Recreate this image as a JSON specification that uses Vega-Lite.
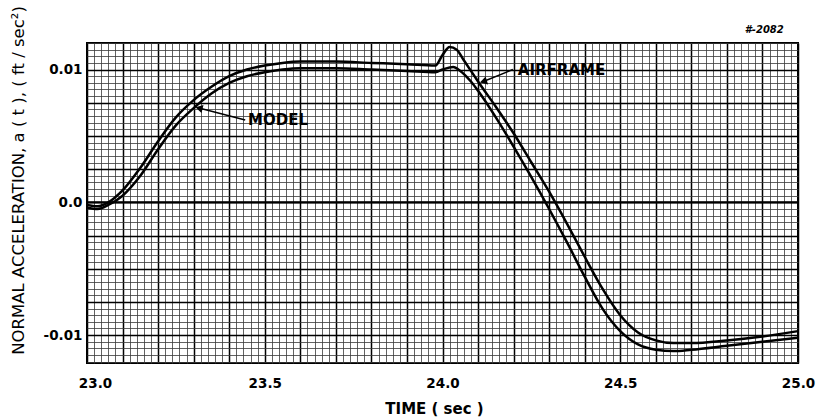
{
  "$schema": "https://vega.github.io/schema/vega-lite/v6.json",
  "width": 711,
  "height": 320,
  "autosize": {"type": "none"},
  "padding": {"left": 87, "top": 43, "right": 19, "bottom": 56},
  "background": "white",
  "config": {
    "view": {"stroke": "black", "strokeWidth": 2},
    "font": "DejaVu Sans"
  },
  "datasets": {
    "curves": [
      {"series": "AIRFRAME", "t": 23.00, "v": -0.0002},
      {"series": "AIRFRAME", "t": 23.03, "v": -0.0003},
      {"series": "AIRFRAME", "t": 23.06, "v": 0.0000},
      {"series": "AIRFRAME", "t": 23.10, "v": 0.0009},
      {"series": "AIRFRAME", "t": 23.15, "v": 0.0026},
      {"series": "AIRFRAME", "t": 23.20, "v": 0.0046},
      {"series": "AIRFRAME", "t": 23.25, "v": 0.0064},
      {"series": "AIRFRAME", "t": 23.30, "v": 0.0077},
      {"series": "AIRFRAME", "t": 23.35, "v": 0.0087},
      {"series": "AIRFRAME", "t": 23.40, "v": 0.0095},
      {"series": "AIRFRAME", "t": 23.45, "v": 0.0100},
      {"series": "AIRFRAME", "t": 23.50, "v": 0.0103},
      {"series": "AIRFRAME", "t": 23.55, "v": 0.0105},
      {"series": "AIRFRAME", "t": 23.60, "v": 0.0106},
      {"series": "AIRFRAME", "t": 23.70, "v": 0.0106},
      {"series": "AIRFRAME", "t": 23.80, "v": 0.0105},
      {"series": "AIRFRAME", "t": 23.90, "v": 0.0104},
      {"series": "AIRFRAME", "t": 23.98, "v": 0.0103},
      {"series": "AIRFRAME", "t": 24.00, "v": 0.0111},
      {"series": "AIRFRAME", "t": 24.02, "v": 0.0117},
      {"series": "AIRFRAME", "t": 24.04, "v": 0.0115},
      {"series": "AIRFRAME", "t": 24.06, "v": 0.0107},
      {"series": "AIRFRAME", "t": 24.08, "v": 0.0099},
      {"series": "AIRFRAME", "t": 24.10, "v": 0.0091},
      {"series": "AIRFRAME", "t": 24.15, "v": 0.0072},
      {"series": "AIRFRAME", "t": 24.20, "v": 0.0052},
      {"series": "AIRFRAME", "t": 24.25, "v": 0.0030},
      {"series": "AIRFRAME", "t": 24.30, "v": 0.0008},
      {"series": "AIRFRAME", "t": 24.35, "v": -0.0016},
      {"series": "AIRFRAME", "t": 24.40, "v": -0.0041},
      {"series": "AIRFRAME", "t": 24.45, "v": -0.0065},
      {"series": "AIRFRAME", "t": 24.50, "v": -0.0085},
      {"series": "AIRFRAME", "t": 24.55, "v": -0.0098},
      {"series": "AIRFRAME", "t": 24.60, "v": -0.0104},
      {"series": "AIRFRAME", "t": 24.65, "v": -0.0106},
      {"series": "AIRFRAME", "t": 24.70, "v": -0.0106},
      {"series": "AIRFRAME", "t": 24.80, "v": -0.0104},
      {"series": "AIRFRAME", "t": 24.90, "v": -0.0101},
      {"series": "AIRFRAME", "t": 25.00, "v": -0.0097},
      {"series": "MODEL", "t": 23.00, "v": -0.0004},
      {"series": "MODEL", "t": 23.03, "v": -0.0005},
      {"series": "MODEL", "t": 23.06, "v": -0.0002},
      {"series": "MODEL", "t": 23.10, "v": 0.0005},
      {"series": "MODEL", "t": 23.15, "v": 0.0020},
      {"series": "MODEL", "t": 23.20, "v": 0.0040},
      {"series": "MODEL", "t": 23.25, "v": 0.0058},
      {"series": "MODEL", "t": 23.30, "v": 0.0071},
      {"series": "MODEL", "t": 23.35, "v": 0.0082},
      {"series": "MODEL", "t": 23.40, "v": 0.0090},
      {"series": "MODEL", "t": 23.45, "v": 0.0095},
      {"series": "MODEL", "t": 23.50, "v": 0.0098},
      {"series": "MODEL", "t": 23.55, "v": 0.0100},
      {"series": "MODEL", "t": 23.60, "v": 0.0101},
      {"series": "MODEL", "t": 23.70, "v": 0.0101},
      {"series": "MODEL", "t": 23.80, "v": 0.0100},
      {"series": "MODEL", "t": 23.90, "v": 0.0099},
      {"series": "MODEL", "t": 23.98, "v": 0.0098},
      {"series": "MODEL", "t": 24.00, "v": 0.0100},
      {"series": "MODEL", "t": 24.03, "v": 0.0102},
      {"series": "MODEL", "t": 24.05, "v": 0.0099},
      {"series": "MODEL", "t": 24.08, "v": 0.0091},
      {"series": "MODEL", "t": 24.10, "v": 0.0084},
      {"series": "MODEL", "t": 24.15, "v": 0.0064},
      {"series": "MODEL", "t": 24.20, "v": 0.0042},
      {"series": "MODEL", "t": 24.25, "v": 0.0019},
      {"series": "MODEL", "t": 24.30, "v": -0.0005},
      {"series": "MODEL", "t": 24.35, "v": -0.0030},
      {"series": "MODEL", "t": 24.40, "v": -0.0056},
      {"series": "MODEL", "t": 24.45, "v": -0.0080},
      {"series": "MODEL", "t": 24.50, "v": -0.0097},
      {"series": "MODEL", "t": 24.55, "v": -0.0107},
      {"series": "MODEL", "t": 24.60, "v": -0.0111},
      {"series": "MODEL", "t": 24.65, "v": -0.0112},
      {"series": "MODEL", "t": 24.70, "v": -0.0111},
      {"series": "MODEL", "t": 24.80, "v": -0.0108},
      {"series": "MODEL", "t": 24.90, "v": -0.0105},
      {"series": "MODEL", "t": 25.00, "v": -0.0102}
    ],
    "zero": [
      {"t": 23.0, "t2": 25.0, "v": 0}
    ],
    "labels": [
      {"label": "MODEL", "t": 23.453, "v": 0.0062},
      {"label": "AIRFRAME", "t": 24.212, "v": 0.0100}
    ],
    "arrows": [
      {"name": "MODEL", "t": 23.445, "v": 0.0062, "t2": 23.315, "v2": 0.0071},
      {"name": "AIRFRAME", "t": 24.198, "v": 0.0100, "t2": 24.115, "v2": 0.0091}
    ],
    "heads": [
      {"name": "MODEL", "t": 23.315, "v": 0.0071},
      {"name": "AIRFRAME", "t": 24.115, "v": 0.0091}
    ],
    "note": [
      {"label": "#-2082", "t": 24.96, "v": 0.0130}
    ]
  },
  "encoding": {
    "x": {
      "field": "t", "type": "quantitative",
      "scale": {"domain": [23, 25], "nice": false, "zero": false},
      "axis": {
        "values": [23,23.02,23.04,23.06,23.08,23.1,23.12,23.14,23.16,23.18,23.2,23.22,23.24,23.26,23.28,23.3,23.32,23.34,23.36,23.38,23.4,23.42,23.44,23.46,23.48,23.5,23.52,23.54,23.56,23.58,23.6,23.62,23.64,23.66,23.68,23.7,23.72,23.74,23.76,23.78,23.8,23.82,23.84,23.86,23.88,23.9,23.92,23.94,23.96,23.98,24,24.02,24.04,24.06,24.08,24.1,24.12,24.14,24.16,24.18,24.2,24.22,24.24,24.26,24.28,24.3,24.32,24.34,24.36,24.38,24.4,24.42,24.44,24.46,24.48,24.5,24.52,24.54,24.56,24.58,24.6,24.62,24.64,24.66,24.68,24.7,24.72,24.74,24.76,24.78,24.8,24.82,24.84,24.86,24.88,24.9,24.92,24.94,24.96,24.98,25],
        "labelExpr": "abs(datum.value*2 - round(datum.value*2)) < 0.001 ? format(datum.value, '.1f') : ''",
        "labelFont": "DejaVu Sans", "labelFontSize": 13.5, "labelFontWeight": "bold", "labelColor": "black",
        "labelPadding": 13,
        "labelOffset": {"condition": {"test": "datum.value < 23.01", "value": 8}, "value": 0},
        "labelFlush": false, "labelOverlap": false,
        "ticks": false, "domain": false,
        "grid": true,
        "gridColor": {"condition": {"test": "abs(datum.value*10 - round(datum.value*10)) < 0.001", "value": "#000000"}, "value": "#3a3a3a"},
        "gridWidth": {"condition": {"test": "abs(datum.value*10 - round(datum.value*10)) < 0.001", "value": 1.5}, "value": 0.8},
        "gridOpacity": 1,
        "title": "TIME ( sec )",
        "titleFont": "DejaVu Sans", "titleFontSize": 15, "titleFontWeight": "bold", "titleColor": "black",
        "titleX": 347, "titleY": 45, "titleBaseline": "middle", "titleAlign": "center"
      }
    },
    "y": {
      "field": "v", "type": "quantitative",
      "scale": {"domain": [-0.0121, 0.0120], "nice": false, "zero": false},
      "axis": {
        "values": [-0.012,-0.0115,-0.011,-0.0105,-0.01,-0.0095,-0.009,-0.0085,-0.008,-0.0075,-0.007,-0.0065,-0.006,-0.0055,-0.005,-0.0045,-0.004,-0.0035,-0.003,-0.0025,-0.002,-0.0015,-0.001,-0.0005,0,0.0005,0.001,0.0015,0.002,0.0025,0.003,0.0035,0.004,0.0045,0.005,0.0055,0.006,0.0065,0.007,0.0075,0.008,0.0085,0.009,0.0095,0.01,0.0105,0.011,0.0115,0.012],
        "labelExpr": "abs(datum.value) < 1e-6 ? '0.0' : abs(datum.value - 0.01) < 1e-6 ? '0.01' : abs(datum.value + 0.01) < 1e-6 ? '-0.01' : ''",
        "labelFont": "DejaVu Sans", "labelFontSize": 13.5, "labelFontWeight": "bold", "labelColor": "black",
        "labelPadding": 5, "labelFlush": false, "labelOverlap": false,
        "ticks": false, "domain": false,
        "grid": true,
        "gridColor": {"condition": {"test": "abs(datum.value*400 - round(datum.value*400)) < 0.001", "value": "#000000"}, "value": "#3a3a3a"},
        "gridWidth": {"condition": {"test": "abs(datum.value*400 - round(datum.value*400)) < 0.001", "value": 1.5}, "value": 0.8},
        "gridOpacity": 1,
        "title": "NORMAL ACCELERATION, a ( t ), ( ft / sec²)",
        "titleFont": "DejaVu Sans", "titleFontSize": 16.5, "titleFontWeight": "normal", "titleColor": "black",
        "titleX": -69, "titleY": 137, "titleBaseline": "middle", "titleAlign": "center", "titleAngle": -90
      }
    }
  },
  "layer": [
    {
      "data": {"name": "curves"},
      "mark": {"type": "line", "color": "black", "strokeWidth": 2.5, "interpolate": "monotone"},
      "encoding": {
        "detail": {"field": "series", "type": "nominal"}
      }
    },
    {
      "data": {"name": "zero"},
      "mark": {"type": "rule", "color": "black", "strokeWidth": 2.2},
      "encoding": {"x2": {"field": "t2"}}
    },
    {
      "data": {"name": "labels"},
      "mark": {"type": "text", "align": "left", "baseline": "middle", "fontSize": 15, "fontWeight": "bold", "font": "DejaVu Sans", "color": "black"},
      "encoding": {
        "text": {"field": "label"}
      }
    },
    {
      "data": {"name": "arrows"},
      "mark": {"type": "rule", "color": "black", "strokeWidth": 1.5},
      "encoding": {
        "x2": {"field": "t2"},
        "y2": {"field": "v2"}
      }
    },
    {
      "data": {"name": "heads"},
      "transform": [{"filter": "datum.name == 'MODEL'"}],
      "mark": {"type": "point", "shape": "triangle-left", "filled": true, "color": "black", "size": 70, "angle": 14, "opacity": 1}
    },
    {
      "data": {"name": "heads"},
      "transform": [{"filter": "datum.name == 'AIRFRAME'"}],
      "mark": {"type": "point", "shape": "triangle-left", "filled": true, "color": "black", "size": 70, "angle": -17, "opacity": 1}
    },
    {
      "data": {"name": "note"},
      "mark": {"type": "text", "align": "right", "baseline": "middle", "fontSize": 10, "fontStyle": "italic", "fontWeight": "bold", "font": "DejaVu Sans", "color": "black"},
      "encoding": {
        "text": {"field": "label"}
      }
    }
  ]
}
